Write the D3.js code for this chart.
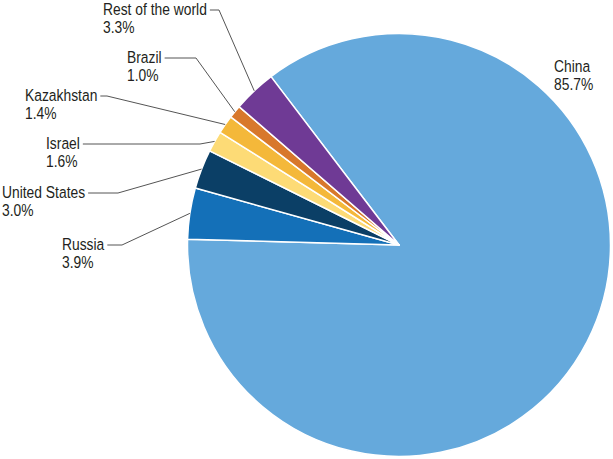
<!DOCTYPE html>
<html>
<head>
<meta charset="utf-8">
<script src="https://cdn.jsdelivr.net/npm/d3@7"></script>
<style>
html,body{margin:0;padding:0;background:#fff;}
svg text{font-family:"Liberation Sans",Arial,sans-serif;font-size:16.5px;fill:#231f20;}
</style>
</head>
<body>
<svg id="chart" width="613" height="459"></svg>
<script>
// Data
const categories = ["China", "Russia", "United States", "Israel", "Kazakhstan", "Brazil", "Rest of the world"];
const shares = [85.7, 3.9, 3.0, 1.6, 1.4, 1.0, 3.3];
const valueLabels = ["85.7%", "3.9%", "3.0%", "1.6%", "1.4%", "1.0%", "3.3%"];
const colors = ["#65a9dc", "#1470b8", "#0b3f66", "#fddb76", "#f4b83a", "#d8782b", "#6f3a95"];

// Layout (label anchors, not data)
const labelLayout = {
  "China":             {x: 554, y: 72,  elbow: null},
  "Russia":            {x: 62,  y: 250, elbow: 122},
  "United States":     {x: 2,   y: 198, elbow: 118},
  "Israel":            {x: 46,  y: 149, elbow: 200},
  "Kazakhstan":        {x: 25,  y: 101, elbow: 107},
  "Brazil":            {x: 127, y: 63,  elbow: 196},
  "Rest of the world": {x: 103, y: 15,  elbow: 219}
};

const cx = 399, cy = 245, R = 211.5;
const start = -37.25 * Math.PI / 180;
const SX = 0.84;

const svg = d3.select("#chart");
const g = svg.append("g").attr("transform", `translate(${cx},${cy})`);

const pie = d3.pie().sort(null).value(d => d.v).startAngle(start).endAngle(start + 2 * Math.PI);
const data = categories.map((c, i) => ({c, v: shares[i], lab: valueLabels[i], col: colors[i]}));
const arcs = pie(data);
const arc = d3.arc().innerRadius(0).outerRadius(R);

g.selectAll("path.slice").data(arcs).enter().append("path")
  .attr("class", "slice")
  .attr("d", arc)
  .attr("fill", d => d.data.col)
  .attr("stroke", "#fff")
  .attr("stroke-width", 1.5)
  .attr("stroke-linejoin", "round");

// Labels
arcs.forEach(a => {
  const L = labelLayout[a.data.c];
  const t = svg.append("text").attr("transform", `translate(${L.x},${L.y}) scale(${SX},1)`).text(a.data.c);
  svg.append("text").attr("transform", `translate(${L.x},${L.y + 18}) scale(${SX},1)`).text(a.data.lab);
  if (L.elbow !== null) {
    const w = t.node().getComputedTextLength() * SX;
    const mid = (a.startAngle + a.endAngle) / 2;
    const px = cx + R * Math.sin(mid), py = cy - R * Math.cos(mid);
    const ly = L.y - 5;
    const pts = [[L.x + w + 3, ly], [L.elbow, ly], [px, py]];
    svg.append("path")
      .attr("d", d3.line()(pts))
      .attr("fill", "none")
      .attr("stroke", "#555")
      .attr("stroke-width", 1);
  }
});
</script>
</body>
</html>
